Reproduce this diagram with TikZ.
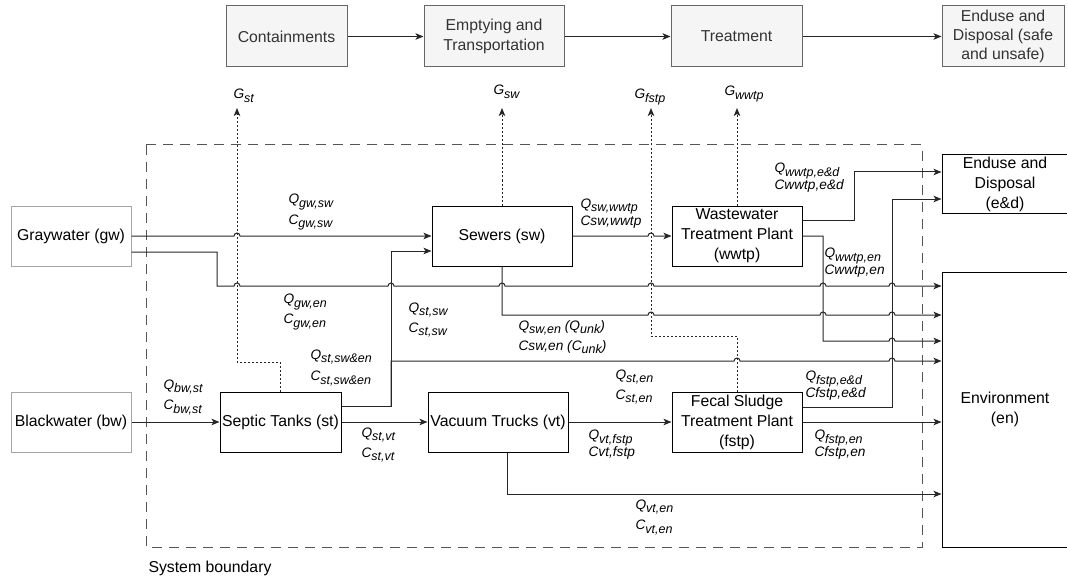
\documentclass[tikz,border=0pt]{standalone}
\usepackage{fontspec}
\setmainfont{Liberation Sans}
\usetikzlibrary{arrows.meta}

\definecolor{stagefill}{HTML}{F5F5F5}
\definecolor{stagedraw}{HTML}{666666}
\definecolor{stagetext}{HTML}{333333}
\definecolor{srcdraw}{HTML}{A6A6A6}
\definecolor{linecol}{HTML}{262626}
\definecolor{bndcol}{HTML}{555555}

\newcommand{\lo}[1]{\raisebox{-3.5pt}{\fontsize{12.5}{12.5}\selectfont#1}}

\begin{document}
\begin{tikzpicture}[x=1pt,y=-1pt,>={Stealth[length=8pt,width=6.5pt,inset=2pt]},
  line width=1pt,font=\fontsize{15.8}{20}\selectfont,
  stage node/.style={draw=stagedraw,fill=stagefill,text=stagetext,minimum height=61pt,align=center,inner sep=2pt},
  source node/.style={draw=srcdraw,minimum width=120pt,minimum height=60pt,align=center,inner sep=2pt},
  main node/.style={draw=black,minimum height=60pt,align=center,inner sep=2pt},
  flow/.style={->,draw=linecol},
  gen/.style={->,draw=linecol,dash pattern=on 2pt off 2pt},
  qc/.style={font=\fontsize{13.7}{17}\selectfont\itshape,align=left,anchor=west,inner sep=0pt},
  hop/.style 2 args={insert path={-- (#1-3,#2) arc[start angle=180,end angle=0,radius=3pt]}}]

  \useasboundingbox (0,0) rectangle (1067,580);

  % stages
  \node[stage node,minimum width=121pt] (cont) at (286.5,36.5) {Containments};
  \node[stage node,minimum width=140pt] (empt) at (494,36.5) {Emptying and\\Transportation};
  \node[stage node,minimum width=131pt] (treat) at (736.5,36.5) {Treatment};
  \node[stage node,minimum width=122pt,font=\fontsize{15.8}{19}\selectfont] (endtop) at (1003,36.5) {Enduse and\\Disposal (safe\\and unsafe)};

  \draw[flow] (cont) -- (empt);
  \draw[flow] (empt) -- (treat);
  \draw[flow] (treat) -- (endtop);

  % system boundary
  \draw[bndcol,dash pattern=on 10pt off 7pt] (146,145) rectangle (922,547);
  \node[anchor=west,inner sep=0pt] (sysb) at (148,568) {System boundary};

  % nodes
  \node[source node] (gw) at (71,236) {Graywater (gw)};
  \node[source node] (bw) at (71,422) {Blackwater (bw)};
  \node[main node,minimum width=140pt] (sw) at (502,236) {Sewers (sw)};
  \node[main node,minimum width=130pt] (wwtp) at (737,236) {Wastewater\\Treatment Plant\\(wwtp)};
  \node[main node,minimum width=121pt,inner sep=1pt] (st) at (280.5,422) {Septic Tanks (st)};
  \node[main node,minimum width=140pt,inner sep=1pt] (vt) at (498,422) {Vacuum Trucks (vt)};
  \node[main node,minimum width=130pt] (fstp) at (737,422) {Fecal Sludge\\Treatment Plant\\(fstp)};
  \node[main node,minimum width=126pt,minimum height=58pt] (ed) at (1005,184) {Enduse and\\Disposal\\(e\&d)};
  \node[main node,minimum width=126pt,minimum height=275pt] (en) at (1005,409.5) {Environment\\(en)};

  \coordinate (gst) at (237,108);
  \coordinate (gsw) at (502,108);
  \coordinate (gfstp) at (651,108);
  \coordinate (gwwtp) at (737,108);

  % generation (dotted)
  \draw[gen] (st.north) -- (280.5,362) -- (237,362) -- (gst);
  \draw[gen] (sw.north) -- (gsw);
  \draw[gen] (fstp.north) -- (737,336) -- (651,336) -- (gfstp);
  \draw[gen] (wwtp.north) -- (gwwtp);

  % flows
  \draw[flow] (gw.east) [hop={237}{236}] -- (sw.west);
  \draw[flow] ([yshift=-16pt]gw.east) -- (217,252) -- (217,286) [hop={237}{286}] [hop={391}{286}]
    [hop={502}{286}] [hop={651}{286}] [hop={823}{286}] [hop={892}{286}] -- (en.west |- 942,286);
  \draw[flow] (sw.east) [hop={651}{236}] -- (wwtp.west);
  \draw[flow] (sw.south) -- (502,315) [hop={651}{315}] [hop={823}{315}] [hop={892}{315}] -- (en.west |- 942,315);
  \draw[flow] ([yshift=16pt]wwtp.east) -- (854,220) -- (854,172) -- (ed.west |- 942,172);
  \draw[flow] (wwtp.east) -- (823,236) -- (823,341) [hop={892}{341}] -- (en.west |- 942,341);
  \draw[flow] ([yshift=16pt]st.east) -- (391,406) -- (391,251) -- ([yshift=-15pt]sw.west);
  \draw[flow] (391,406) -- (391,361) [hop={737}{361}] [hop={892}{361}] -- (en.west |- 942,361);
  \draw[flow] (bw) -- (st);
  \draw[flow] (st) -- (vt);
  \draw[flow] (vt) -- (fstp);
  \draw[flow] ([xshift=9pt]vt.south) -- (507,494) -- (en.west |- 942,494);
  \draw[flow] ([yshift=15pt]fstp.east) -- (892,407) -- (892,199) -- (ed.west |- 942,199);
  \draw[flow] (fstp.east) -- (en.west |- fstp.east);

  % generation labels
  \node[qc] (gstl) at (233,96) {G\lo{st}};
  \node[qc] (gswl) at (493,92) {G\lo{sw}};
  \node[qc] (gfstpl) at (634,97) {G\lo{fstp}};
  \node[qc] (gwwtpl) at (724,94) {G\lo{wwtp}};

  % flow labels
  \node[qc] (qgwsw) at (288,212.5) {Q\lo{gw,sw}\\[3.5pt]C\lo{gw,sw}};
  \node[qc] (qgwen) at (283,312) {Q\lo{gw,en}\\[3pt]C\lo{gw,en}};
  \node[qc] (qstsw) at (408,320) {Q\lo{st,sw}\\[3pt]C\lo{st,sw}};
  \node[qc] (qstswen) at (310,368) {Q\lo{st,sw\&en}\\[4.5pt]C\lo{st,sw\&en}};
  \node[qc] (qbwst) at (163,397.5) {Q\lo{bw,st}\\[3.5pt]C\lo{bw,st}};
  \node[qc] (qstvt) at (361,445) {Q\lo{st,vt}\\[3pt]C\lo{st,vt}};
  \node[qc] (qswwwtp) at (580,213.5) {Q\lo{sw,wwtp}\\Csw,wwtp};
  \node[qc] (qswen) at (518,337) {Q\lo{sw,en} (Q\lo{unk})\\[3pt]Csw,en (C\lo{unk})};
  \node[qc] (qwwtped) at (774,178) {Q\lo{wwtp,e\&d}\\Cwwtp,e\&d};
  \node[qc] (qwwtpen) at (824,263) {Q\lo{wwtp,en}\\Cwwtp,en};
  \node[qc] (qsten) at (615,387) {Q\lo{st,en}\\[3pt]C\lo{st,en}};
  \node[qc] (qvtfstp) at (588,445) {Q\lo{vt,fstp}\\Cvt,fstp};
  \node[qc] (qfstped) at (805,386) {Q\lo{fstp,e\&d}\\Cfstp,e\&d};
  \node[qc] (qfstpen) at (814,445) {Q\lo{fstp,en}\\Cfstp,en};
  \node[qc] (qvten) at (635,517.5) {Q\lo{vt,en}\\[3.5pt]C\lo{vt,en}};
\end{tikzpicture}
\end{document}
